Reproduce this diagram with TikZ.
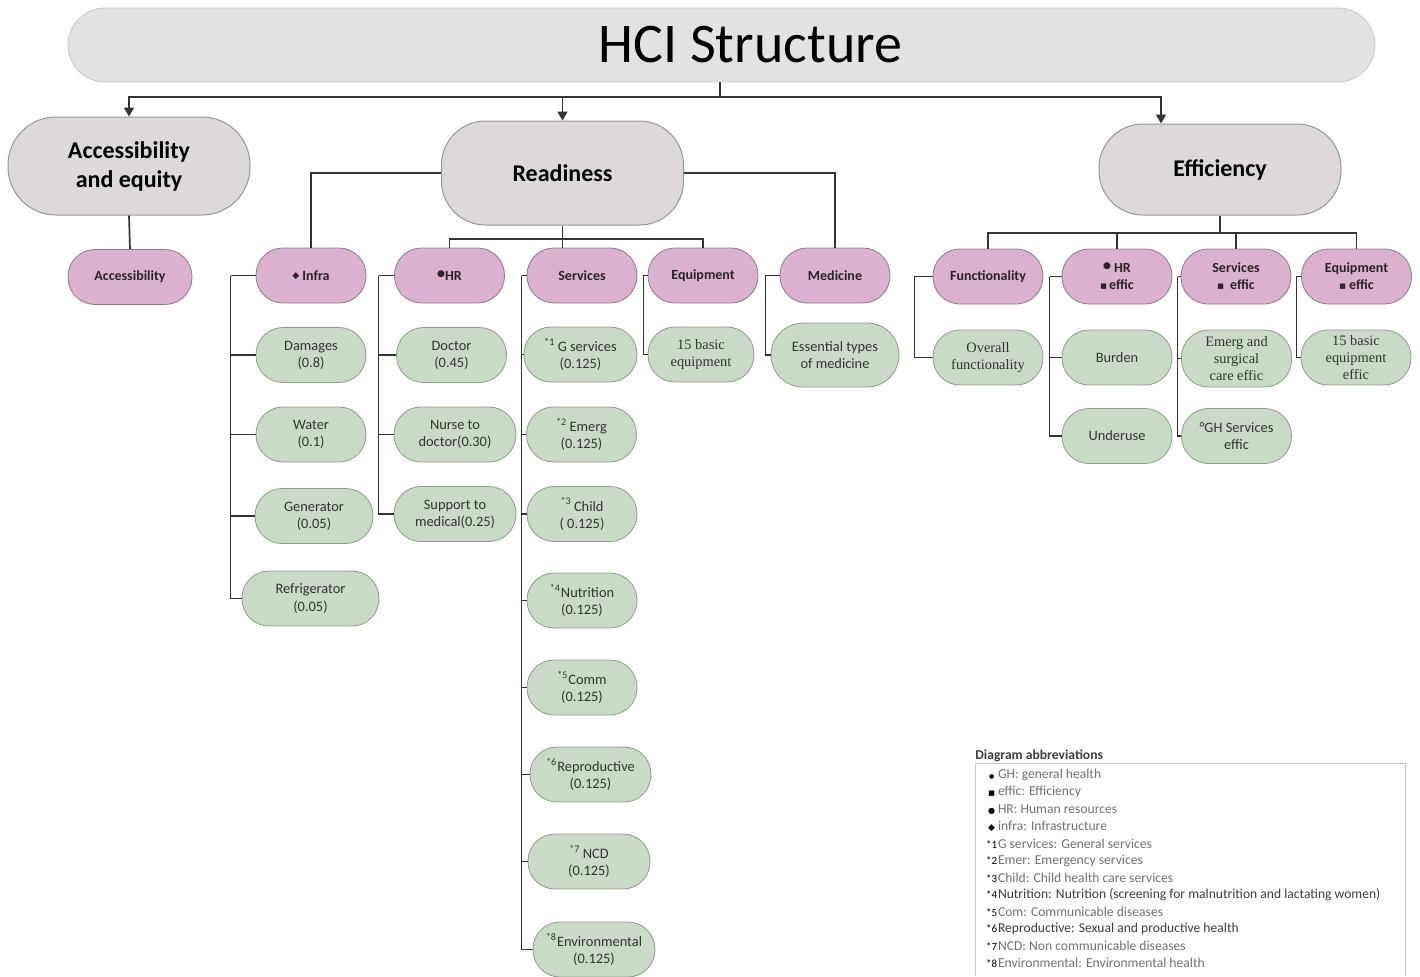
\documentclass[tikz,border=0pt]{standalone}
\usepackage{fontspec}
\setmainfont{Carlito}
\newfontfamily\serifface{Liberation Serif}
\newfontfamily\symfont{DejaVu Sans}
\usetikzlibrary{arrows.meta}
\definecolor{barfill}{HTML}{E2E2E2}
\definecolor{barline}{HTML}{C8C8C8}
\definecolor{mainfill}{HTML}{DDD8DC}
\definecolor{mainline}{HTML}{9A9498}
\definecolor{catfill}{HTML}{DBB1CF}
\definecolor{catline}{HTML}{8E7A88}
\definecolor{itemfill}{HTML}{C9DAC6}
\definecolor{itemline}{HTML}{8E9C8B}
\definecolor{linkcol}{HTML}{333333}
\definecolor{legtext}{HTML}{707070}
\definecolor{legdark}{HTML}{3C3C3C}
\newcommand{\infrasym}{\raisebox{0.8pt}{\symfont\fontsize{4.5}{5}\selectfont ◆}}
\newcommand{\hrsym}{\raisebox{2pt}{\symfont\fontsize{4.5}{5}\selectfont ●}}
\newcommand{\effsym}{\raisebox{0.6pt}{\symfont\fontsize{3.5}{5}\selectfont ■}}
\newcommand{\ghsym}{{\symfont\fontsize{3}{5}\selectfont ●}}
\newcommand{\legdot}{{\symfont\fontsize{4}{5}\selectfont ●}}
\newcommand{\legsq}{{\symfont\fontsize{3.5}{5}\selectfont ■}}
\newcommand{\legdiam}{{\symfont\fontsize{4.5}{5}\selectfont ◆}}
\newcommand{\legstar}[1]{{\fontsize{5.5}{5}\selectfont *#1}}
\tikzset{
  titlebar/.style={rectangle,rounded corners=18.5pt,draw=barline,fill=barfill,minimum width=653.5pt,
    minimum height=37pt,font=\fontsize{28}{30}\selectfont},
  mainbox/.style={rectangle,rounded corners=22pt,draw=mainline,fill=mainfill,line width=0.5pt,
    minimum width=121pt,minimum height=50pt,align=center,font=\bfseries\fontsize{12}{14.5}\selectfont},
  catbox/.style={rectangle,rounded corners=13.5pt,draw=catline,fill=catfill,line width=0.4pt,minimum width=55pt,
    minimum height=27.5pt,align=center,text=black!85,font=\bfseries\fontsize{7}{8.5}\selectfont},
  itembox/.style={rectangle,rounded corners=13.5pt,draw=itemline,fill=itemfill,line width=0.4pt,minimum width=55pt,
    minimum height=27.5pt,inner sep=1.5pt,align=center,text=black!80,font=\fontsize{7.2}{8.6}\selectfont},
  serifitem/.style={itembox,font=\serifface\fontsize{7.2}{8.6}\selectfont},
  link/.style={color=linkcol,line width=0.85pt},
  arrowlink/.style={-{Triangle[width=5pt,length=4.5pt]}},
  legline/.style={anchor=west,inner sep=0pt,font=\fontsize{6.8}{8}\selectfont},
}
\begin{document}
\begin{tikzpicture}[x=0.5pt,y=-0.5pt]
      \useasboundingbox (0,0) rectangle (1420,976);
      \node[titlebar] (title) at (721.5,45) {\hspace*{29pt}HCI Structure};
      \node[mainbox,rounded corners=24pt,minimum height=49pt] (access) at (129,166) {Accessibility\\and equity};
      \node[mainbox,minimum height=52pt] (ready) at (562.5,173) {Readiness};
      \node[mainbox,minimum height=45.5pt] (effic) at (1220,169.5) {Efficiency};

      \node[catbox,minimum width=62pt] (accessib) at (130,277) {Accessibility};
      \node[catbox] (infra) at (311,275.5) {\infrasym\ Infra};
      \node[catbox] (hr) at (449.5,275.5) {\hrsym HR};
      \node[catbox] (services) at (582,275.5) {Services};
      \node[catbox] (equip) at (703,275.5) {Equipment};
      \node[catbox] (medicine) at (835,275.5) {Medicine};
      \node[catbox] (func) at (988,276.5) {Functionality};
      \node[catbox] (hreff) at (1117,276.5) {\hrsym\ HR\\\effsym\,effic};
      \node[catbox] (sveff) at (1236,276.5) {Services\\\effsym\ \ effic};
      \node[catbox] (eqeff) at (1356.5,276.5) {Equipment\\\effsym\ effic};

      \node[itembox] (damages) at (311,355) {Damages\\(0.8)};
      \node[itembox] (water) at (311,434.5) {Water\\(0.1)};
      \node[itembox,minimum width=59pt] (generator) at (314,516) {Generator\\(0.05)};
      \node[itembox,minimum width=68.5pt] (fridge) at (310.5,598.5) {Refrigerator\\(0.05)};
      \node[itembox] (doctor) at (451.5,355) {Doctor\\(0.45)};
      \node[itembox,minimum width=61pt] (nurse) at (455,434.5) {Nurse to\\doctor(0.30)};
      \node[itembox,minimum width=61pt] (support) at (455,514) {Support to\\medical(0.25)};
      \node[itembox,minimum width=56.5pt] (gserv) at (580.5,354.5) {\textsuperscript{*1}\,G services\\(0.125)};
      \node[itembox] (emerg) at (581.5,434.5) {\textsuperscript{*2}\,Emerg\\(0.125)};
      \node[itembox] (child) at (582,514) {\textsuperscript{*3}\,Child\\( 0.125)};
      \node[itembox] (nutrition) at (582,600.5) {\textsuperscript{*4}Nutrition\\(0.125)};
      \node[itembox] (comm) at (582,687.5) {\textsuperscript{*5}Comm\\(0.125)};
      \node[itembox,minimum width=60.5pt] (reprod) at (590.5,774.5) {\textsuperscript{*6}Reproductive\\(0.125)};
      \node[itembox,minimum width=61pt] (ncd) at (589,861.5) {\textsuperscript{*7}\,NCD\\(0.125)};
      \node[itembox,minimum width=61pt] (environ) at (594,949.5) {\textsuperscript{*8}Environmental\\(0.125)};
      \node[serifitem,minimum width=53pt] (basiceq) at (701,354.5) {15 basic\\equipment};
      \node[itembox,minimum width=64pt,minimum height=32pt,rounded corners=16pt] (essential) at (835,355) {Essential types\\of medicine};
      \node[serifitem] (overall) at (988,357.5) {Overall\\functionality};
      \node[itembox] (burden) at (1117,357.5) {Burden};
      \node[itembox] (underuse) at (1117,436) {Underuse};
      \node[serifitem,minimum height=28.5pt,inner sep=0.5pt] (emergeff) at (1236.5,358.5) {Emerg and\\surgical\\care effic};
      \node[itembox] (ghserv) at (1236.5,436) {°GH Services\\effic};
      \node[serifitem,inner sep=0.5pt] (basiceqeff) at (1356,357.5) {15 basic\\equipment\\effic};

      \coordinate (topfork) at (720,97);
      \coordinate (readyfork) at (562.5,239);
      \coordinate (efficfork) at (1220,233);
      \begin{scope}[link]
        \draw (title.south -| topfork) -- (topfork);
        \draw[arrowlink] (topfork) -| (access.north);
        \draw[arrowlink] (topfork) -| (ready.north);
        \draw[arrowlink] (topfork) -| ([xshift=-29.5pt]effic.north);
        \draw (access.south) -- (accessib.north);
        \draw (ready.west) -| (infra.north);
        \draw (ready.east) -| (medicine.north);
        \draw (ready.south) -- (services.north -| ready.south);
        \draw (hr.north) |- (readyfork) -| (equip.north);
        \draw (effic.south) -- (efficfork);
        \draw (func.north) |- (efficfork) -| (eqeff.north);
        \draw (hreff.north) -- (hreff.north |- efficfork);
        \draw (sveff.north) -- (sveff.north |- efficfork);
        \draw (infra.west) -- ++(-25,0) coordinate (infrabar);
        \foreach \c in {damages,water,generator,fridge} \draw (infrabar) |- (\c.west);
        \draw (hr.west) -- ++(-15.5,0) coordinate (hrbar);
        \foreach \c in {doctor,nurse,support} \draw (hrbar) |- (\c.west);
        \draw (services.west) -- ++(-5,0) coordinate (servbar);
        \foreach \c in {gserv,emerg,child,nutrition,comm,reprod,ncd,environ} \draw (servbar) |- (\c.west);
        \draw (equip.west) -- ++(-4,0) |- (basiceq.west);
        \draw (medicine.west) -- ++(-14,0) |- (essential.west);
        \draw (func.west) -- ++(-18,0) |- (overall.west);
        \draw (hreff.west) -- ++(-12,0) coordinate (hreffbar);
        \foreach \c in {burden,underuse} \draw (hreffbar) |- (\c.west);
        \draw (sveff.west) -- ++(-3,0) coordinate (sveffbar);
        \foreach \c in {emergeff,ghserv} \draw (sveffbar) |- (\c.west);
        \draw (eqeff.west) -- ++(-4.5,0) |- (basiceqeff.west);
      \end{scope}

      \node[legline,text=legdark,font=\bfseries\fontsize{6.8}{8}\selectfont] (legtitle) at (975,755.5) {Diagram abbreviations};
      \draw[gray!45,line width=0.5pt] (975,976) |- (1405,763) -- (1405,976);
      \foreach \mk/\txt/\col [count=\i] in {
          \ghsym/GH: general health/legtext,
          \legsq/effic: Efficiency/legtext,
          \legdot/HR: Human resources/legtext,
          \legdiam/infra: Infrastructure/legtext,
          \legstar{1}/G services: General services/legtext,
          \legstar{2}/Emer: Emergency services/legtext,
          \legstar{3}/Child: Child health care services/legtext,
          \legstar{4}/Nutrition: Nutrition (screening for malnutrition and lactating women)/legdark,
          \legstar{5}/Com: Communicable diseases/legtext,
          \legstar{6}/Reproductive: Sexual and productive health/legdark,
          \legstar{7}/NCD: Non communicable diseases/legtext,
          \legstar{8}/Environmental: Environmental health/legtext}
        \node[legline,text=\col] (leg\i) at (985,757.9+17.1*\i) {\makebox[6.3pt][c]{\color{black}\mk}\txt};
\end{tikzpicture}
\end{document}
